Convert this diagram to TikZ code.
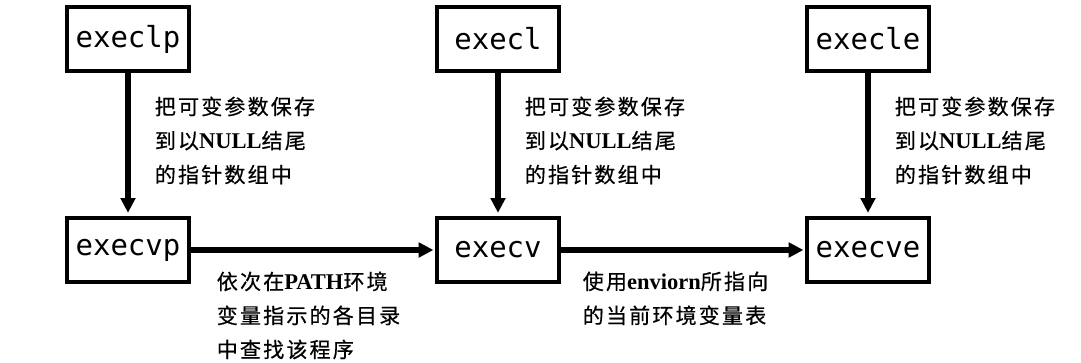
\documentclass[tikz,border=0pt]{standalone}
\usepackage{fontspec}
\setmainfont{Liberation Serif}
\newfontfamily\cjk[LetterSpace=10,FakeBold=0.5]{Noto Sans CJK SC}
\newfontfamily\codefont{DejaVu Sans Mono}
\usetikzlibrary{arrows.meta,positioning}
\newcommand{\lat}[1]{{\rmfamily\bfseries\fontsize{16}{24}\selectfont #1}}

\begin{document}
\begin{tikzpicture}[
  fn/.style={draw,line width=2.8pt,minimum width=3.05cm,minimum height=1.6cm,inner sep=0pt,font=\codefont\fontsize{20.6}{24}\selectfont},
  flow/.style={line width=4pt,-{Triangle[length=0.37cm,width=0.36cm]}},
  note/.style={align=left,inner sep=0pt,font=\cjk\fontsize{15}{24.2}\selectfont}]
\useasboundingbox (0,0) rectangle (27.025,9.075);
\node[fn] (execlp) at (3.2,8.1) {execlp};
\node[fn] (execl) at (12.45,8.1) {execl};
\node[fn] (execle) at (21.7,8.1) {execle};
\node[fn] (execvp) at (3.2,2.825) {execvp};
\node[fn] (execv) at (12.45,2.825) {execv};
\node[fn] (execve) at (21.7,2.825) {execve};
% l-functions hand their arguments on as a vector
\foreach \src/\dst in {execlp/execvp,execl/execv,execle/execve}{
  \draw[flow,shorten >=0.08cm] (\src) -- node[note,right=0.6cm,yshift=0.1cm] {把可变参数保存\\到以\lat{NULL}结尾\\的指针数组中} (\dst);
}
\draw[flow,shorten >=0.04cm] (execvp) -- node[note,at start,anchor=north west,xshift=0.575cm,yshift=-0.47cm] {依次在\lat{PATH}环境\\变量指示的各目录\\中查找该程序} (execv);
\draw[flow,shorten >=0.04cm] (execv) -- node[note,at start,anchor=north west,xshift=0.475cm,yshift=-0.47cm] {使用\lat{enviorn}所指向\\的当前环境变量表} (execve);
\end{tikzpicture}
\end{document}
